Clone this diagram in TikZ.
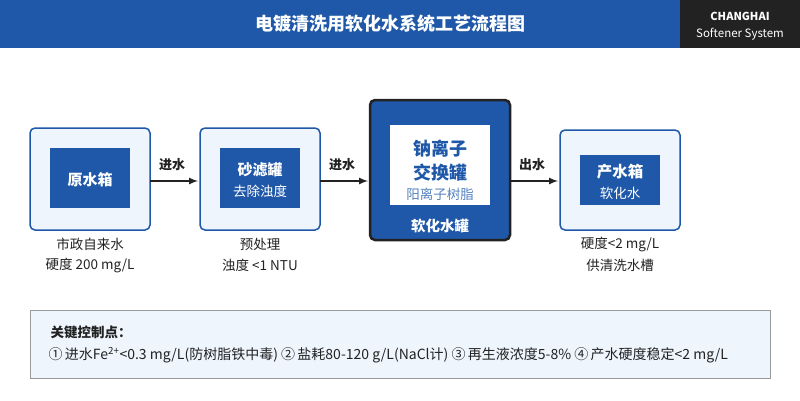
\documentclass[tikz,border=0pt]{standalone}
\usepackage{fontspec}
\setmainfont{Noto Sans CJK SC}
\definecolor{blu}{HTML}{1F58A8}
\definecolor{lite}{HTML}{EEF5FD}
\definecolor{dk}{HTML}{222222}
\begin{document}
\begin{tikzpicture}[x=1pt,y=-1pt,
 box/.style={draw=blu,fill=lite,line width=1.5pt,rounded corners=5pt},
 lbl/.style={font=\fontsize{13.5}{16}\selectfont,align=center,text=dk},
 arr/.style={-latex,line width=2pt,dk},
 al/.style={font=\fontsize{13}{16}\selectfont\bfseries,text=dk}]
\useasboundingbox (0,0) rectangle (800,400);
\fill[blu] (0,0) rectangle (680,48);
\fill[dk] (680,0) rectangle (800,48);
\node[text=white,font=\fontsize{18}{21}\selectfont\bfseries] (title) at (390,24) {电镀清洗用软化水系统工艺流程图};
\node[text=white,font=\fontsize{11}{13}\selectfont\bfseries] (c1) at (740,16) {CHANGHAI};
\node[text=white,font=\fontsize{11.5}{13}\selectfont] (c2) at (740,34) {Softener System};
% box1
\draw[box] (30,128) rectangle (150,230);
\node[minimum width=120pt,minimum height=102pt] (b1) at (90,179) {};
\fill[blu] (50,148) rectangle (130,208);
\node[text=white,font=\fontsize{15}{18}\selectfont\bfseries] (t1) at (90,180) {原水箱};
% box2
\draw[box] (200,128) rectangle (320,230);
\node[minimum width=120pt,minimum height=102pt] (b2) at (260,179) {};
\fill[blu] (220,148) rectangle (300,208);
\node[text=white,font=\fontsize{15}{18}\selectfont\bfseries] (t2) at (260,170) {砂滤罐};
\node[text=white,font=\fontsize{13.5}{16}\selectfont] (t2b) at (260,191) {去除浊度};
% tank
\draw[fill=blu,draw=dk,line width=2.5pt,rounded corners=5pt] (370,100) rectangle (510,240);
\node[minimum width=140pt,minimum height=140pt] (b3) at (440,170) {};
\fill[white] (390,125) rectangle (490,205);
\node[text=blu,font=\fontsize{18}{20}\selectfont\bfseries] (t3a) at (440,149) {钠离子};
\node[text=blu,font=\fontsize{18}{20}\selectfont\bfseries] (t3b) at (440,173) {交换罐};
\node[text=blu!75,font=\fontsize{13.5}{16}\selectfont] (t3c) at (440,194) {阳离子树脂};
\node[text=white,font=\fontsize{14.5}{17}\selectfont\bfseries] (t3d) at (440,226) {软化水罐};
% box4
\draw[box] (560,130) rectangle (680,230);
\node[minimum width=120pt,minimum height=100pt] (b4) at (620,180) {};
\fill[blu] (580,155) rectangle (660,205);
\node[text=white,font=\fontsize{15.5}{18}\selectfont\bfseries] (t4) at (620,172) {产水箱};
\node[text=white,font=\fontsize{13.5}{16}\selectfont] (t4b) at (620,193) {软化水};
% arrows
\coordinate (a1s) at (150,181); \coordinate (a1e) at (198,181);
\coordinate (a2s) at (320,181); \coordinate (a2e) at (368,181);
\coordinate (a3s) at (511,181); \coordinate (a3e) at (558,181);
\draw[arr] (a1s) -- (a1e); \draw[arr] (a2s) -- (a2e); \draw[arr] (a3s) -- (a3e);
\node[al] (l1) at (172,165) {进水};
\node[al] (l2) at (342,165) {进水};
\node[al] (l3) at (532,165) {出水};
% captions
\node[lbl] (c1a) at (90,244) {市政自来水};
\node[lbl] (c1b) at (90,265) {硬度 200 mg/L};
\node[lbl] (c2a) at (260,244) {预处理};
\node[lbl] (c2b) at (260,265) {浊度 <1 NTU};
\node[lbl] (c4a) at (620,244) {硬度<2 mg/L};
\node[lbl] (c4b) at (620,265) {供清洗水槽};
% bottom panel
\draw[fill=lite,draw=gray!80,line width=1pt] (30,310) rectangle (770,378);
\node[anchor=west,text=dk,font=\fontsize{13.5}{16}\selectfont\bfseries] (kt) at (47,332) {关键控制点：};
\node[anchor=west,text=dk,font=\fontsize{14}{16}\selectfont] (kl) at (45,355) {①\,进水Fe\textsuperscript{2+}<0.3 mg/L(防树脂铁中毒) ②\,盐耗80-120 g/L(NaCl计) ③\,再生液浓度5-8\% ④\,产水硬度稳定<2 mg/L};
\end{tikzpicture}
\end{document}
